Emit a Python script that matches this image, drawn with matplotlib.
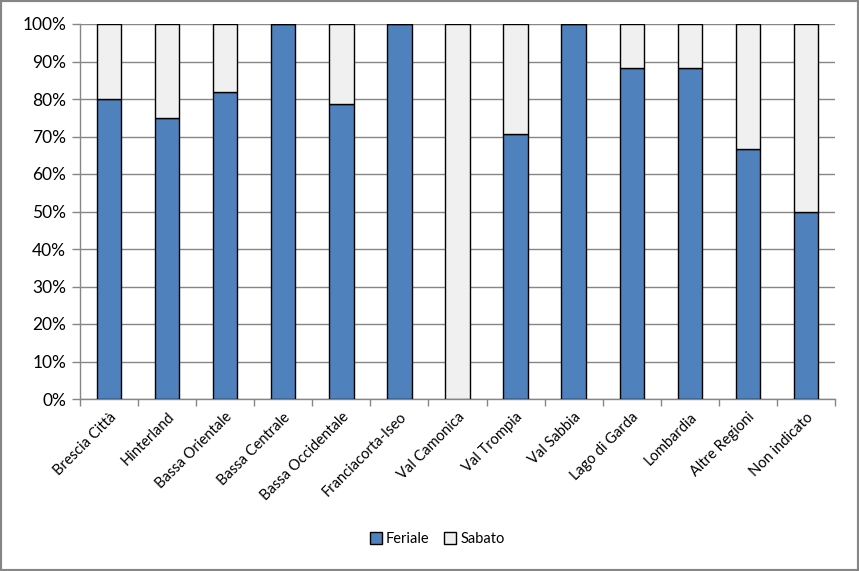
import numpy as np
import matplotlib
matplotlib.use("Agg")
import matplotlib.pyplot as plt
from matplotlib.patches import Rectangle
from matplotlib.ticker import PercentFormatter

plt.rcParams["font.family"] = ["Lato", "DejaVu Sans"]

# Data (share of Feriale, Sabato is the rest)
zones = ["Brescia Città", "Hinterland", "Bassa Orientale", "Bassa Centrale",
         "Bassa Occidentale", "Franciacorta-Iseo", "Val Camonica", "Val Trompia",
         "Val Sabbia", "Lago di Garda", "Lombardia", "Altre Regioni", "Non indicato"]
feriale = [80.0, 75.0, 82.0, 100.0, 78.6, 100.0, 0.0, 70.8, 100.0, 88.2, 88.2, 66.7, 50.0]
sabato = [100.0 - f for f in feriale]

fig = plt.figure(figsize=(8.59, 5.71), dpi=100)
ax = fig.add_axes([80 / 859, 1 - 399 / 571, 755 / 859, 375 / 571])

x = np.arange(len(zones))
ax.bar(x, feriale, width=0.42, color="#4F81BD", edgecolor="black", linewidth=1.0,
       label="Feriale", zorder=3)
ax.bar(x, sabato, width=0.42, bottom=feriale, color="#F0F0F0", edgecolor="black",
       linewidth=1.0, label="Sabato", zorder=3)

ax.set_xlim(-0.5, len(zones) - 0.5)
ax.set_ylim(0, 100)
ax.set_yticks(np.arange(0, 101, 10))
ax.yaxis.set_major_formatter(PercentFormatter(decimals=0))
ax.grid(axis="y", color="#868686", linewidth=1.0, zorder=0)

# category labels, tick marks at category boundaries
ax.set_xticks(x)
ax.set_xticklabels(zones, rotation=45, ha="right", rotation_mode="anchor", fontsize=10.5)
ax.tick_params(axis="x", length=0, pad=8)
ax.set_xticks(np.arange(-0.5, len(zones)), minor=True)
ax.tick_params(axis="x", which="minor", length=5, color="#868686", width=1)
ax.tick_params(axis="y", length=6, color="#868686", width=1, labelsize=12.5, pad=4)

for side in ["top", "right"]:
    ax.spines[side].set_visible(False)
for side in ["left", "bottom"]:
    ax.spines[side].set_color("#868686")
    ax.spines[side].set_linewidth(1)

fig.legend(loc="center", bbox_to_anchor=(0.509, 1 - 539 / 571), ncol=2, frameon=False,
           fontsize=10.5, handlelength=0.8, handleheight=0.8, handletextpad=0.3,
           columnspacing=1.0)

fig.patches.append(Rectangle((0, 0), 1, 1, transform=fig.transFigure, fill=False,
                             edgecolor="#868686", linewidth=3))

fig.savefig("out.png", dpi=100)
